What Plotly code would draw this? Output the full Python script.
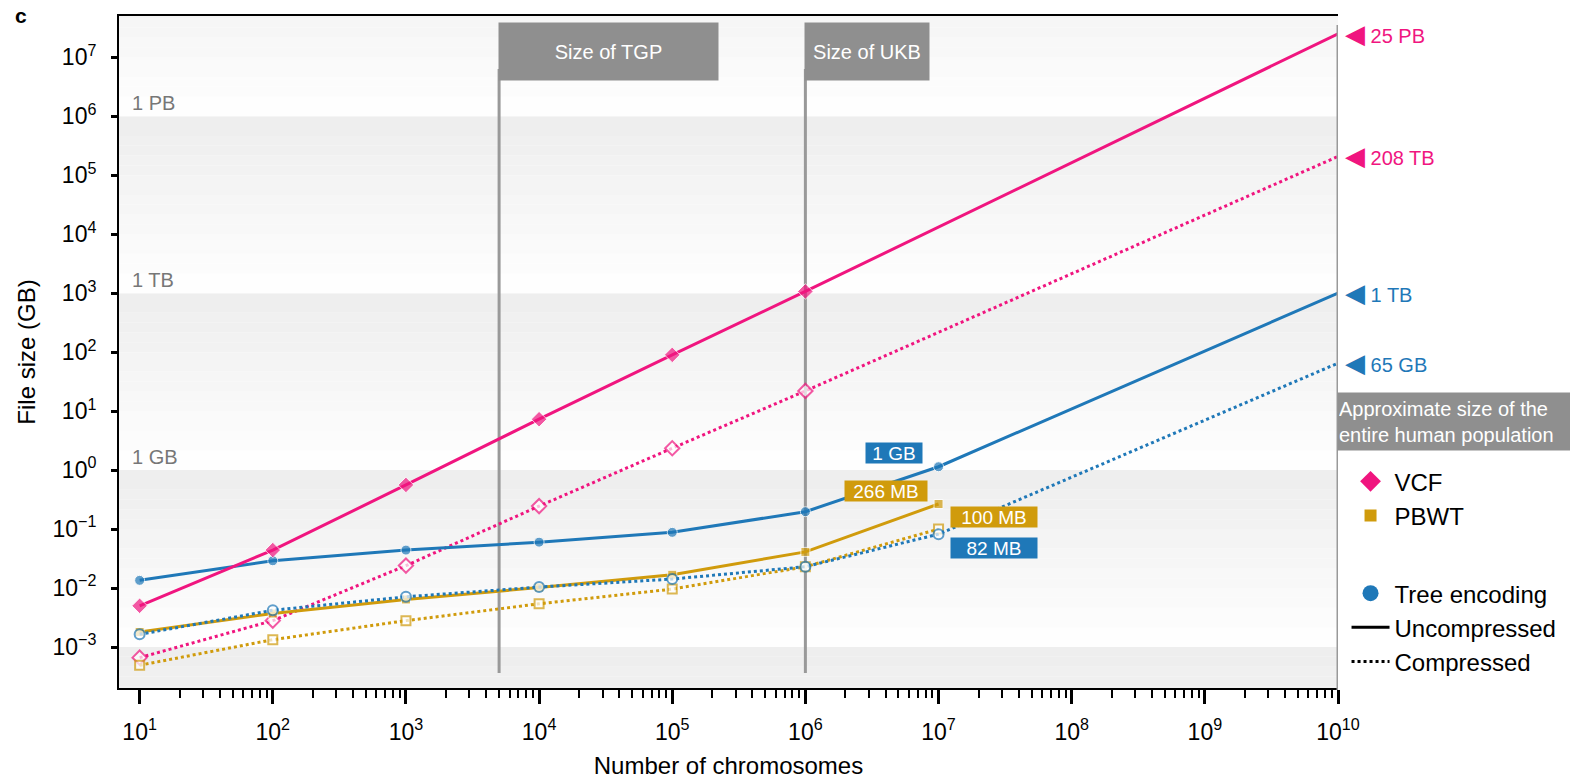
import numpy as np
import plotly.graph_objects as go

# ---------------- data ----------------
chromosomes = [1e1, 1e2, 1e3, 1e4, 1e5, 1e6, 1e7]
population = 1e10
tgp_size = 5008
ukb_size = 1e6

vcf_uncompressed = [0.005, 0.044, 0.56, 7.3, 90, 1070]
vcf_compressed = [0.00066, 0.0028, 0.024, 0.245, 2.35, 22]
vcf_uncompressed_pop = 25e6
vcf_compressed_pop = 208e3

tree_uncompressed = [0.0135, 0.029, 0.044, 0.06, 0.088, 0.197, 1.14]
tree_compressed = [0.00164, 0.0042, 0.0071, 0.0104, 0.0142, 0.023, 0.082]
tree_uncompressed_pop = 1000
tree_compressed_pop = 65

pbwt_uncompressed = [0.0018, 0.0037, 0.0064, 0.0102, 0.0168, 0.041, 0.266]
pbwt_compressed = [0.00049, 0.00133, 0.0028, 0.0054, 0.0096, 0.023, 0.100]

pop_labels = ["25 PB", "208 TB", "1 TB", "65 GB"]
callout_labels = ["1 GB", "266 MB", "100 MB", "82 MB"]

x_tick_exp = list(range(1, 11))
y_tick_exp = list(range(-3, 8))

# ---------------- style ----------------
PINK = "#f0157f"
BLUE = "#1f78b8"
GOLD = "#d09b0c"
GREY = "#8f8f8f"
FONT = "Liberation Sans, Arial, sans-serif"

XR = [0.845, 10.0]
YR = [-3.695, 7.70]

fig = go.Figure()


def add_series(xs, ys, color, symbol, dash, filled, end=None, size=10):
    xs = list(xs)
    ys = list(ys)
    sizes = [size] * len(xs)
    if end is not None:
        xs.append(population)
        ys.append(end)
        sizes.append(0)
    if filled:
        marker = dict(symbol=symbol, size=sizes, color=color, line=dict(color="white", width=1))
    else:
        marker = dict(symbol=symbol, size=sizes, color="white", line=dict(color=color, width=2))
    fig.add_trace(go.Scatter(x=xs, y=ys, mode="lines+markers", line=dict(color=color, width=3, dash=dash),
                             marker=marker, showlegend=False, hoverinfo="skip"))


n_vcf = len(vcf_uncompressed)
add_series(chromosomes[:n_vcf], vcf_compressed, PINK, "diamond", "dot", False, vcf_compressed_pop, 11)
add_series(chromosomes, pbwt_compressed, GOLD, "square", "dot", False, None, 9)
add_series(chromosomes, pbwt_uncompressed, GOLD, "square", "solid", True, None, 9)
add_series(chromosomes, tree_compressed, BLUE, "circle", "dot", False, tree_compressed_pop, 10)
add_series(chromosomes, tree_uncompressed, BLUE, "circle", "solid", True, tree_uncompressed_pop, 10)
add_series(chromosomes[:n_vcf], vcf_uncompressed, PINK, "diamond", "solid", True, vcf_uncompressed_pop, 12)

# legend-only traces
fig.add_trace(go.Scatter(x=[None], y=[None], mode="markers", name="VCF",
                         marker=dict(symbol="diamond", size=16, color=PINK), legend="legend"))
fig.add_trace(go.Scatter(x=[None], y=[None], mode="markers", name="PBWT",
                         marker=dict(symbol="square", size=12, color=GOLD), legend="legend"))
fig.add_trace(go.Scatter(x=[None], y=[None], mode="markers", name="Tree encoding",
                         marker=dict(symbol="circle", size=16, color=BLUE), legend="legend2"))
fig.add_trace(go.Scatter(x=[None], y=[None], mode="lines", name="Uncompressed",
                         line=dict(color="black", width=3), legend="legend2"))
fig.add_trace(go.Scatter(x=[None], y=[None], mode="lines", name="Compressed",
                         line=dict(color="black", width=3, dash="dot"), legend="legend2"))

# ---------------- background gradient bands ----------------
shapes = []
n_slices = 18
for lo in [-6, -3, 0, 3, 6]:
    for i in range(n_slices):
        f0 = lo + 3 * i / n_slices
        f1 = lo + 3 * (i + 1) / n_slices
        f0c, f1c = max(f0, YR[0]), min(f1, YR[1])
        if f1c <= f0c:
            continue
        t = (i + 0.5) / n_slices
        g = int(round(255 - t * (255 - 237)))
        shapes.append(dict(type="rect", xref="x", yref="y", x0=10 ** XR[0], x1=10 ** XR[1],
                           y0=10 ** f0c, y1=10 ** f1c, fillcolor=f"rgb({g},{g},{g})",
                           line=dict(width=0), layer="below"))

# vertical reference lines (TGP, UKB behind the data; population line)
for xv in [tgp_size, ukb_size]:
    shapes.append(dict(type="line", xref="x", yref="y", x0=xv, x1=xv, y0=10 ** -3.44, y1=10 ** 6.8,
                       line=dict(color="#999999", width=3), layer="below"))
shapes.append(dict(type="line", xref="x", yref="paper", x0=population, x1=population, y0=-0.003, y1=0.9866,
                   line=dict(color="#999999", width=3), layer="above"))

annotations = []
# header boxes
annotations.append(dict(xref="x", yref="paper", x=np.log10(tgp_size), y=0.991, xanchor="left", yanchor="top",
                        xshift=-1.5, text="Size of TGP", showarrow=False, width=217, height=55,
                        bgcolor=GREY, font=dict(color="white", size=20, family=FONT), align="center"))
annotations.append(dict(xref="x", yref="paper", x=np.log10(ukb_size), y=0.991, xanchor="left", yanchor="top",
                        xshift=-1.5, text="Size of UKB", showarrow=False, width=122, height=55,
                        bgcolor=GREY, font=dict(color="white", size=20, family=FONT), align="center"))
annotations.append(dict(xref="paper", yref="paper", x=1.0, y=0.4405, xanchor="left", yanchor="top",
                        xshift=-1, text="Approximate size of the<br>entire human population", showarrow=False,
                        width=231, height=55, bgcolor=GREY, align="left",
                        font=dict(color="white", size=20, family=FONT)))

# size unit labels
for e, lab in [(6, "1 PB"), (3, "1 TB"), (0, "1 GB")]:
    annotations.append(dict(xref="paper", yref="y", x=0.009, y=e, xanchor="left", yanchor="bottom",
                            yshift=0, text=lab, showarrow=False,
                            font=dict(color="#777777", size=20, family=FONT)))

# population-size labels
for val, lab, col in zip([vcf_uncompressed_pop, vcf_compressed_pop, tree_uncompressed_pop, tree_compressed_pop],
                         pop_labels, [PINK, PINK, BLUE, BLUE]):
    annotations.append(dict(xref="paper", yref="y", x=1.0, y=np.log10(val), xanchor="left", yanchor="middle",
                            xshift=5, text="<span style='font-size:26px'>◀</span> " + lab, showarrow=False,
                            font=dict(color=col, size=20, family=FONT)))

# callouts at 10^7
callouts = [
    (tree_uncompressed[-1], callout_labels[0], BLUE, "right", "bottom", -16, 3, 56),
    (pbwt_uncompressed[-1], callout_labels[1], GOLD, "right", "bottom", -11, 2, 82),
    (pbwt_compressed[-1], callout_labels[2], GOLD, "left", "bottom", 11, 1, 86),
    (tree_compressed[-1], callout_labels[3], BLUE, "left", "top", 11, -3, 86),
]
for val, lab, col, xa, ya, xs, ys, w in callouts:
    annotations.append(dict(xref="x", yref="y", x=np.log10(chromosomes[-1]), y=np.log10(val),
                            xanchor=xa, yanchor=ya, xshift=xs, yshift=ys, text=lab, showarrow=False,
                            bgcolor=col, borderpad=0, width=w, height=20, align="center",
                            font=dict(color="white", size=19, family=FONT)))

# panel letter
annotations.append(dict(xref="paper", yref="paper", x=-0.087, y=1.0, xanchor="left", yanchor="top",
                        yshift=14, text="<b>c</b>", showarrow=False, font=dict(color="black", size=21, family=FONT)))


def sup(e):
    s = str(e).replace("-", "−")
    return f"10<sup>{s}</sup>"


minor_x = [m * 10 ** k for k in range(1, 10) for m in range(2, 10)]

fig.update_layout(
    width=1570, height=782,
    margin=dict(l=119, r=232, t=16, b=94, autoexpand=False),
    paper_bgcolor="white", plot_bgcolor="white",
    font=dict(family=FONT, color="black"),
    shapes=shapes, annotations=annotations,
    xaxis=dict(type="log", range=XR, tickvals=[10 ** e for e in x_tick_exp], ticktext=[sup(e) for e in x_tick_exp],
               ticks="outside", ticklen=14, tickwidth=3, tickcolor="black",
               minor=dict(tickvals=minor_x, ticks="outside", ticklen=8, tickwidth=1.5, tickcolor="black", showgrid=False),
               showline=True, linecolor="black", linewidth=2, mirror=True, automargin=False,
               showgrid=False, zeroline=False, tickfont=dict(size=23), ticklabelstandoff=8,
               title=dict(text="Number of chromosomes", font=dict(size=24), standoff=14)),
    yaxis=dict(type="log", range=YR, tickvals=[10 ** e for e in y_tick_exp], ticktext=[sup(e) for e in y_tick_exp],
               ticks="outside", ticklen=6, tickwidth=2.5, tickcolor="black", automargin=False,
               showline=True, linecolor="black", linewidth=2,
               showgrid=False, zeroline=False, tickfont=dict(size=23), ticklabelstandoff=10,
               title=dict(text="File size (GB)", font=dict(size=24), standoff=10)),
    legend=dict(x=1.007, y=0.3405, xanchor="left", yanchor="top", font=dict(size=24), bgcolor="rgba(0,0,0,0)",
                itemsizing="trace", itemwidth=38),
    legend2=dict(x=1.007, y=0.174, xanchor="left", yanchor="top", font=dict(size=24), bgcolor="rgba(0,0,0,0)",
                 itemsizing="trace", itemwidth=38),
)

fig.write_html("out.html", config={"displayModeBar": False},
               post_script="document.body.style.margin='0';")
